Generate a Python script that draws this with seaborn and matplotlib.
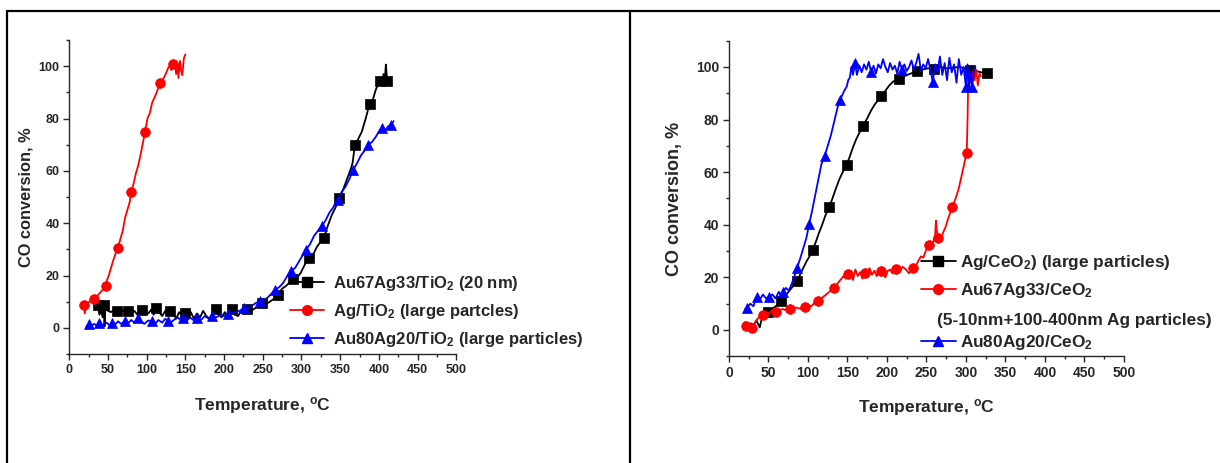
import matplotlib
matplotlib.use("Agg")
import matplotlib.pyplot as plt
import seaborn as sns
from matplotlib.lines import Line2D
from matplotlib.ticker import MultipleLocator

# ---- left panel: TiO2 catalysts (temperature in C, CO conversion in %) ----
ti_au67_t = [36.5, 39, 41, 43, 44.7, 45.5, 46.5, 50, 54, 58, 61, 65, 69, 72, 76, 80, 84, 88, 91, 94,
             98, 102, 106, 109, 112, 116, 120, 124, 127, 130, 134, 138, 142, 146, 149, 153, 157, 161, 165, 169,
             173, 177, 181, 185, 189, 193, 197, 201, 205, 210, 214, 218, 222, 226, 230, 235, 240, 245, 249, 254,
             259, 264, 270, 275, 280, 285, 289, 294, 299, 304, 310, 315, 320, 325, 329, 334, 339, 344, 349, 354,
             359, 364, 366, 369, 373, 378, 383, 388, 392, 396, 401, 404, 406, 408, 409, 410, 411]
ti_au67_c = [8.8, 5, 7, 4, 8.8, 0.5, 7.5, 6.5, 6, 7, 6.4, 5.5, 6.8, 6, 6.4, 5.5, 6.5, 5, 7, 7,
             6, 5.5, 7, 5, 7.6, 6, 4.5, 6.5, 5, 6.4, 5.5, 3.5, 6, 4.5, 5.7, 4, 6, 3.5, 5.5, 4,
             6.5, 4.5, 3.5, 5.5, 7.3, 5, 4, 6, 3.5, 7.3, 5, 4.5, 6.5, 5.5, 7.3, 6.5, 7.5, 8, 9.5, 9,
             10, 11, 12.7, 15, 16, 17.5, 18.7, 19, 21, 24, 26.8, 28, 31, 33, 34.4, 39, 43, 46, 49.7, 53,
             57, 61, 63, 69.8, 72, 75, 80, 85.7, 87, 91, 94.3, 93, 97, 96, 100.6, 97, 94.3]
ti_au67_marks = [0, 4, 10, 14, 19, 24, 29, 34, 44, 49, 54, 58, 62, 66, 70, 74, 78, 83, 87, 90, 96]

ti_ag_t = [19, 20, 22, 25, 28, 31.5, 34, 37, 40, 43, 45, 47, 49, 51, 54, 57, 60, 63, 66, 69,
           72, 75, 78, 80, 83, 86, 89, 92, 95, 98, 101, 104, 107, 110, 113, 117, 120, 123, 126, 128,
           130, 132, 134.5, 136, 138, 140, 141, 143, 144, 146, 148, 150]
ti_ag_c = [8.7, 5.5, 9, 9.8, 10.3, 11, 11.5, 12.5, 13.5, 14.5, 15, 16, 18.5, 20, 23, 26, 28.5, 30.5, 34, 37,
           42, 45, 48, 52, 55, 59, 62, 66, 70.5, 75, 80, 82, 86, 88, 90, 93.6, 94.5, 96, 98, 99.5,
           100, 98.5, 101, 102, 97, 101, 95.5, 102, 99, 96.5, 103, 104.5]
ti_ag_marks = [0, 5, 11, 17, 23, 29, 35, 42]

ti_au80_t = [22, 25, 28, 32, 35, 38, 41, 45, 48, 52, 55, 59, 63, 67, 72, 76, 80, 84, 89, 93,
             97, 102, 107, 111, 115, 120, 124, 127, 131, 135, 140, 144, 147, 151, 156, 160, 165, 170, 175, 180,
             185, 190, 195, 200, 205, 210, 215, 220, 226, 231, 236, 241, 246, 251, 256, 261, 266, 271, 276, 281,
             287, 292, 297, 302, 306, 311, 316, 321, 326, 331, 336, 341, 347, 352, 357, 362, 367, 372, 377, 381,
             386, 391, 396, 400, 404, 408, 412, 416, 419]
ti_au80_c = [0.5, 1.3, 0.8, 1.5, 1, 1.7, 0.5, 1.5, 2, 1, 1.9, 1.2, 2.5, 1.5, 2.5, 1.8, 3, 2, 3.8, 2.5,
             1.5, 2.8, 2.5, 1.5, 3, 2, 3.5, 2.5, 2, 3, 4, 3, 3.8, 2.5, 4, 3, 3.8, 3, 4.5, 3.5,
             4.5, 4, 5, 4.5, 5.1, 5.5, 6, 6.5, 7.6, 7.5, 8.5, 9.5, 10.2, 10.5, 11.5, 13, 14.6, 15.5, 17, 19.5,
             21.7, 23, 25.5, 28, 29.9, 32, 35, 37, 38.9, 41, 44, 46, 49, 52, 54, 57, 60.5, 63, 66, 67.5,
             70, 71, 73, 75, 76.4, 75.5, 77, 77.7, 79]
ti_au80_marks = [1, 5, 10, 14, 18, 22, 27, 32, 36, 40, 44, 48, 52, 56, 60, 64, 68, 72, 76, 80, 84, 87]

# ---- right panel: CeO2 catalysts ----
ce_ag_t = [25, 28, 31, 35, 39, 42, 45, 49, 53, 57, 61, 66.5, 70, 74, 78, 82, 86, 90, 94, 98,
           102, 106, 110, 114, 118, 122, 127, 131, 135, 140, 144, 149, 153, 157, 161, 166, 170, 175, 180, 184,
           189, 193, 198, 203, 208, 215, 222, 230, 238, 245, 252, 260, 268, 276, 284, 292, 299, 305, 312, 319,
           327]
ce_ag_c = [2, 2.5, 2, 3.5, 1, 5, 6, 7, 7.5, 8.5, 9.5, 11.1, 12.5, 14, 15.5, 17, 18.6, 21, 23.5, 26,
           28, 30.6, 33.5, 37, 40, 43.5, 46.8, 50, 53.5, 57.5, 60, 62.9, 66, 69.5, 72.5, 75.5, 77.7, 80.5, 83.5, 85.5,
           87.5, 88.9, 91, 93, 94.5, 95.4, 96.5, 97.5, 98.4, 99, 99.5, 99.4, 100, 99.5, 99.8, 100, 99.5, 99, 98.5, 98,
           97.7]
ce_ag_marks = [7, 11, 16, 21, 26, 31, 36, 41, 45, 48, 51, 57, 60]

ce_au67_t = [20, 21.5, 24, 26, 28.7, 31, 34, 37, 40, 43.4, 47, 51, 55, 60, 64, 68, 72, 77, 81, 86,
             91, 96, 100, 104, 109, 113, 117, 121, 125, 129, 133, 137, 141, 145, 148, 151, 154, 157, 160, 163,
             166, 169, 172, 175, 178, 181, 184, 187, 190, 192.4, 195, 198, 201, 204, 207, 210, 212, 216, 220, 224,
             228, 232.5, 236, 240, 243, 246, 249, 252.7, 256, 259, 261, 262, 263, 265, 268, 271, 274, 277, 280, 282.6,
             285, 288, 291, 294, 297, 299, 301, 302, 303, 304, 305, 307, 309, 311, 313, 315, 317, 319]
ce_au67_c = [3, 1.5, 0.5, 2, 0.6, 1.5, 3.5, 4.5, 5.5, 5.7, 6.5, 6.5, 7.5, 7, 7.5, 8, 7.5, 8, 8, 8.5,
             8, 8.6, 9.5, 9, 10.5, 11, 12, 13, 14, 15, 16, 17.5, 19, 20.5, 19.5, 21.3, 22.5, 19, 23, 20.5,
             22, 19.5, 21.8, 22, 23.5, 21, 22.5, 20.5, 23, 22.5, 21.5, 20, 22.5, 23, 21.5, 23.5, 23.2, 22.5, 24, 23,
             21.5, 23.6, 24, 26.5, 28, 27.5, 30, 32.3, 31.5, 34, 36, 41.6, 38, 35, 34.5, 37, 39, 42, 44.5, 46.9,
             48.5, 51, 54, 58, 62, 65, 67.4, 80, 98, 94, 97, 93.5, 98.5, 95, 99, 93, 97.5, 96.5]
ce_au67_marks = [1, 4, 9, 13, 17, 21, 25, 30, 35, 42, 49, 56, 61, 67, 73, 79, 86]

ce_au80_t = [20.6, 23, 27, 31, 35, 39, 43, 47, 51, 55, 59, 63, 66, 69, 72, 76, 80, 83, 86, 90,
             94, 98, 101.6, 105, 109, 113, 117, 121, 125, 129, 133, 137, 140, 143, 146, 149, 151, 153, 155, 157,
             159.5, 162, 165, 168, 171, 174, 177, 180, 183, 186, 189, 192, 195, 198, 201, 204, 207, 210, 213, 216,
             219, 222, 225, 228, 231, 234, 237, 240, 243, 246, 249, 252, 255, 258, 261, 264, 267, 270, 273, 276,
             279, 282, 285, 288, 291, 294, 297, 300, 302, 304, 306, 308, 310, 312]
ce_au80_c = [8, 8.5, 10, 9, 12.7, 11.5, 13.5, 12, 12.7, 13.5, 12, 14.5, 13, 14.6, 16, 15, 18, 20.5, 23.5, 27,
             31, 35, 40.3, 45, 51, 57, 63, 66, 70, 74, 79, 84, 87.5, 89, 91, 92.5, 95, 96, 100, 97,
             101.4, 97, 100.5, 98, 101, 99, 102, 98, 100.5, 97.5, 101, 99.5, 103, 100, 98, 101.5, 99, 100.5, 97.5, 102,
             99, 101, 98.5, 100, 102.5, 99, 101.5, 105, 98.5, 101, 99.5, 103, 99, 94.3, 101, 98, 104, 97, 101.5, 95,
             103.5, 98, 101, 94, 103, 97, 100, 92.4, 101, 92, 98, 92.5, 99, 100]
ce_au80_marks = [1, 4, 8, 13, 18, 22, 27, 32, 40, 47, 60, 73, 87, 91]

ti_labels = ["Au67Ag33/TiO$_2$ (20 nm)", "Ag/TiO$_2$ (large partcles)",
             "Au80Ag20/TiO$_2$ (large particles)"]
ce_labels = ["Ag/CeO$_2$) (large particles)", "Au67Ag33/CeO$_2$", " ", "Au80Ag20/CeO$_2$"]
ce_note = "(5-10nm+100-400nm Ag particles)"

sns.set_style("ticks")
plt.rcParams["font.family"] = ["Liberation Sans", "DejaVu Sans"]
plt.rcParams["font.weight"] = "bold"
plt.rcParams["mathtext.fontset"] = "custom"
plt.rcParams["mathtext.rm"] = "Liberation Sans:bold"
plt.rcParams["mathtext.it"] = "Liberation Sans:bold"
plt.rcParams["mathtext.bf"] = "Liberation Sans:bold"
plt.rcParams["mathtext.default"] = "regular"

colors = ["black", "red", "blue"]
shapes = ["s", "o", "^"]
msizes = [6.5, 7, 7.5]

fig = plt.figure(figsize=(12.2, 4.63), dpi=100)
ax1 = fig.add_axes([0.0568, 0.2354, 0.3172, 0.6782])
ax2 = fig.add_axes([0.5975, 0.2305, 0.3238, 0.6816])


def draw(ax, series):
    for (t, c, marks), col, mk, ms in zip(series, colors, shapes, msizes):
        sns.lineplot(x=t, y=c, ax=ax, color=col, linewidth=1.3, marker=mk, markersize=ms,
                     markevery=marks, mec=col, mew=0.5, estimator=None, sort=False)


draw(ax1, [(ti_au67_t, ti_au67_c, ti_au67_marks), (ti_ag_t, ti_ag_c, ti_ag_marks),
           (ti_au80_t, ti_au80_c, ti_au80_marks)])
draw(ax2, [(ce_ag_t, ce_ag_c, ce_ag_marks), (ce_au67_t, ce_au67_c, ce_au67_marks),
           (ce_au80_t, ce_au80_c, ce_au80_marks)])

for ax, tick_fs, ylab_fs, ypad, xpad in [(ax1, 9, 11.8, 4, 14), (ax2, 10, 13, 9, 12.5)]:
    ax.set_xlim(0, 500)
    ax.set_ylim(-10, 110)
    ax.xaxis.set_major_locator(MultipleLocator(50))
    ax.xaxis.set_minor_locator(MultipleLocator(25))
    ax.yaxis.set_major_locator(MultipleLocator(20))
    ax.yaxis.set_minor_locator(MultipleLocator(10))
    ax.tick_params(which="major", direction="out", length=4, width=1, labelsize=tick_fs, pad=3)
    ax.tick_params(which="minor", direction="out", length=2.5, width=1)
    for lab in ax.get_xticklabels() + ax.get_yticklabels():
        lab.set_fontweight("bold")
    sns.despine(ax=ax)
    ax.spines["left"].set_linewidth(1)
    ax.spines["bottom"].set_linewidth(1)
    ax.set_xlabel("Temperature, $^{o}$C", fontsize=12.5, fontweight="bold", labelpad=xpad)
    ax.set_ylabel("CO conversion, %", fontsize=ylab_fs, fontweight="bold", labelpad=ypad)


def handles(n_extra=False):
    hs = [Line2D([], [], color=col, marker=mk, markersize=ms, mec=col, linewidth=1.3)
          for col, mk, ms in zip(colors, shapes, msizes)]
    if n_extra:
        hs.insert(2, Line2D([], [], linestyle="none"))
    return hs


ax1.legend(handles(), ti_labels, loc="upper left", bbox_to_anchor=(0.570, 0.255), frameon=False,
           borderpad=0, borderaxespad=0, handlelength=2.04, handletextpad=0.54, labelspacing=0.55,
           prop={"size": 12, "weight": "bold"})
ax2.legend(handles(True), ce_labels, loc="upper left", bbox_to_anchor=(0.486, 0.326), frameon=False,
           borderpad=0, borderaxespad=0, handlelength=2.03, handletextpad=0.23, labelspacing=0.52,
           prop={"size": 12.4, "weight": "bold"})
ax2.text(0.527, 0.112, ce_note, transform=ax2.transAxes, fontsize=12.4, fontweight="bold",
         ha="left", va="center")

# table-like frame around the two panels
for xs, ys in [([0.006, 1.0], [0.976, 0.976]), ([0.006, 0.006], [0.0, 0.976]),
               ([0.5164, 0.5164], [0.0, 0.976])]:
    fig.add_artist(Line2D(xs, ys, transform=fig.transFigure, color="black", linewidth=1.6))

fig.savefig("out.png", dpi=100)
